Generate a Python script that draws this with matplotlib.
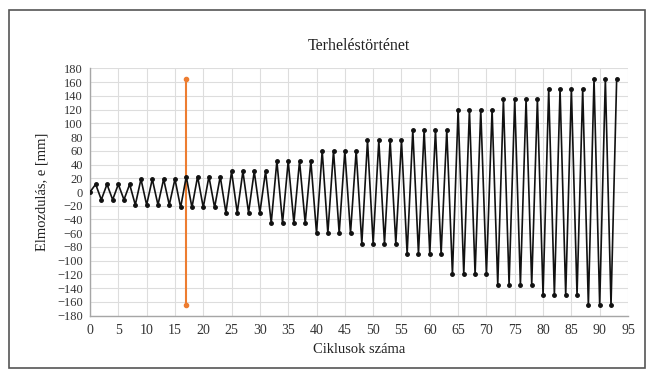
import matplotlib
matplotlib.use("Agg")
import matplotlib.pyplot as plt
from matplotlib.patches import Rectangle

plt.rcParams['font.family'] = ['Liberation Serif', 'DejaVu Serif']

# Displacement history: index = cycle counter
cycles = list(range(0, 94))
displacement = [0,
    11.25, -11.25, 11.25, -11.25, 11.25, -11.25, 11.25,
    -18.75, 18.75, -18.75, 18.75, -18.75, 18.75, -18.75, 18.75,
    -22.5, 22.5, -22.5, 22.5, -22.5, 22.5, -22.5, 22.5,
    -30, 30, -30, 30, -30, 30, -30, 30,
    -45, 45, -45, 45, -45, 45, -45, 45,
    -60, 60, -60, 60, -60, 60, -60, 60,
    -75, 75, -75, 75, -75, 75, -75, 75,
    -90, 90, -90, 90, -90, 90, -90, 90,
    -120, 120, -120, 120, -120, 120, -120, 120,
    -135, 135, -135, 135, -135, 135, -135, 135,
    -150, 150, -150, 150, -150, 150, -150, 150,
    -165, 165, -165, 165, -165, 165]

marker_x = [17, 17]
marker_y = [-165, 165]

xticks = list(range(0, 96, 5))
yticks = list(range(-180, 181, 20))

fig = plt.figure(figsize=(6.55, 3.74), dpi=100)
ax = fig.add_axes([90/655, 1 - 315.7/374, (628 - 90)/655, (315.7 - 68.3)/374])

ax.plot(marker_x, marker_y, color='#ED7D31', lw=1.5, marker='o', ms=3, zorder=3)
ax.plot(cycles, displacement, color='#111111', lw=1.2, marker='o', ms=2.5, zorder=4)

ax.set_xlim(0, 95)
ax.set_ylim(-180, 180)
ax.set_xticks(xticks)
ax.set_yticks(yticks)
ax.grid(True, color='#DDDDDD', lw=0.8)
ax.set_axisbelow(True)
for s in ['top', 'right']:
    ax.spines[s].set_visible(False)
for s in ['left', 'bottom']:
    ax.spines[s].set_color('#A6A6A6')
    ax.spines[s].set_linewidth(1.0)
ax.tick_params(axis='both', length=0, labelsize=9, colors='#333333', pad=6)
ax.tick_params(axis='y', pad=5)
ax.tick_params(axis='x', labelsize=10)

ax.set_title('Terheléstörténet', fontsize=11.5, color='#222222', pad=13)
ax.set_xlabel('Ciklusok száma', fontsize=10.5, color='#222222', labelpad=4)
ax.set_ylabel('Elmozdulás, e [mm]', fontsize=10.5, color='#222222', labelpad=6)

fig.patches.append(Rectangle((9/655, 1 - 368/374), (645 - 9)/655, (368 - 10)/374,
                             transform=fig.transFigure, fill=False,
                             edgecolor='#555555', lw=1.2))

fig.savefig('out.png', dpi=100)
